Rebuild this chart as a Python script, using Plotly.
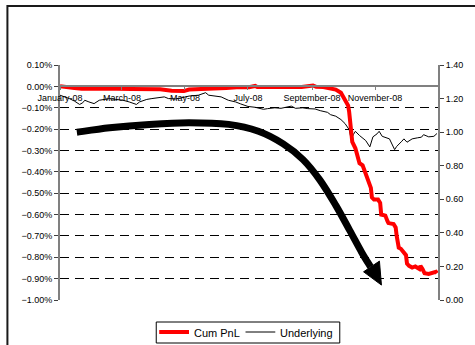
import plotly.graph_objects as go

# ---------------- data ----------------
pnl_dates = ["2008-01-01","2008-01-08","2008-01-15","2008-01-22","2008-02-01","2008-02-12","2008-02-25",
             "2008-03-10","2008-03-24","2008-04-07","2008-04-18","2008-04-25","2008-04-30","2008-05-05",
             "2008-05-14","2008-05-28","2008-06-10","2008-06-20","2008-06-27","2008-07-02","2008-07-08",
             "2008-07-10","2008-07-24","2008-08-08","2008-08-22","2008-09-02","2008-09-05","2008-09-12",
             "2008-09-19","2008-09-24","2008-09-29","2008-10-03","2008-10-06","2008-10-07","2008-10-08",
             "2008-10-09","2008-10-10","2008-10-13","2008-10-14","2008-10-15","2008-10-17","2008-10-20",
             "2008-10-22","2008-10-24","2008-10-26","2008-10-28","2008-10-29","2008-10-31","2008-11-04",
             "2008-11-06","2008-11-07","2008-11-11","2008-11-13","2008-11-14","2008-11-19","2008-11-21",
             "2008-11-22","2008-11-24","2008-11-26","2008-11-29","2008-12-01","2008-12-02","2008-12-04",
             "2008-12-07","2008-12-10","2008-12-14","2008-12-15","2008-12-17","2008-12-19","2008-12-23",
             "2008-12-26","2008-12-29","2008-12-30","2008-12-31"]
# cumulative PnL in percent
pnl_pct = [0.000,-0.002,-0.008,-0.011,-0.010,-0.009,-0.011,
           -0.012,-0.012,-0.014,-0.020,-0.023,-0.022,-0.015,
           -0.014,-0.012,-0.008,-0.004,-0.003,-0.004,0.002,
           -0.003,-0.003,-0.002,-0.003,0.004,-0.002,-0.003,
           -0.008,-0.015,-0.030,-0.060,-0.090,-0.120,-0.170,
           -0.230,-0.260,-0.290,-0.310,-0.330,-0.360,-0.370,
           -0.395,-0.420,-0.445,-0.475,-0.520,-0.530,-0.530,
           -0.545,-0.600,-0.605,-0.630,-0.640,-0.645,-0.660,
           -0.700,-0.755,-0.760,-0.780,-0.790,-0.830,-0.840,
           -0.848,-0.843,-0.855,-0.840,-0.855,-0.875,-0.878,
           -0.875,-0.873,-0.868,-0.875]

und_dates = ["2008-01-01","2008-01-06","2008-01-10","2008-01-15","2008-01-20","2008-01-23","2008-01-25",
             "2008-01-29","2008-02-03","2008-02-08","2008-02-13","2008-02-18","2008-02-24","2008-03-02",
             "2008-03-08","2008-03-13","2008-03-15","2008-03-18","2008-03-25","2008-03-30","2008-04-06",
             "2008-04-11","2008-04-15","2008-04-22","2008-04-28","2008-05-05","2008-05-14","2008-05-21",
             "2008-05-24","2008-05-31","2008-06-05","2008-06-12","2008-06-19","2008-06-24","2008-07-01",
             "2008-07-08","2008-07-16","2008-07-20","2008-07-27","2008-08-02","2008-08-09","2008-08-12",
             "2008-08-16","2008-08-23","2008-08-28","2008-09-04","2008-09-09","2008-09-16","2008-09-19",
             "2008-09-24","2008-09-29","2008-10-03","2008-10-07","2008-10-09","2008-10-11","2008-10-13",
             "2008-10-17","2008-10-20","2008-10-23","2008-10-27","2008-10-30","2008-11-03","2008-11-05",
             "2008-11-08","2008-11-11","2008-11-15","2008-11-20","2008-11-22","2008-11-27","2008-11-29",
             "2008-12-02","2008-12-07","2008-12-12","2008-12-16","2008-12-18","2008-12-23","2008-12-28",
             "2008-12-31"]
underlying = [1.220,1.210,1.200,1.185,1.165,1.175,1.190,
              1.180,1.170,1.190,1.195,1.200,1.195,1.190,
              1.180,1.168,1.165,1.180,1.195,1.200,1.205,
              1.210,1.200,1.198,1.205,1.215,1.220,1.235,
              1.220,1.215,1.210,1.190,1.180,1.168,1.153,
              1.148,1.136,1.140,1.145,1.142,1.150,1.155,
              1.142,1.145,1.140,1.138,1.128,1.118,1.104,
              1.095,1.075,1.051,1.015,0.956,0.985,1.005,
              0.980,0.966,0.950,0.912,0.972,0.990,1.005,
              0.975,0.968,0.960,0.896,0.915,0.946,0.960,
              0.940,0.960,0.966,0.970,0.985,0.972,0.975,
              0.992]

series_names = ["Cum PnL", "Underlying"]
x_tickvals = ["2008-01-01","2008-03-01","2008-05-01","2008-07-01","2008-09-01","2008-11-01"]
x_ticktext = ["January-08","March-08","May-08","July-08","September-08","November-08"]
left_ticks_pct = [0.10,0.00,-0.10,-0.20,-0.30,-0.40,-0.50,-0.60,-0.70,-0.80,-0.90,-1.00]
right_ticks = [0.0,0.2,0.4,0.6,0.8,1.0,1.2,1.4]

# ---------------- layout geometry (pixels) ----------------
W, H = 475, 345
PL, PR, PT, PB = 60, 441, 65, 300
YMIN, YMAX = -1.0, 0.1   # percent

def px_x(x):
    return (x - PL) / (PR - PL)
def px_y(y):
    return (PB - y) / (PB - PT)
def pct_y(p):
    return (p - YMIN) / (YMAX - YMIN)

FONT = "Arial, Liberation Sans, sans-serif"
RED = "#FF0000"

fig = go.Figure()
fig.add_trace(go.Scatter(x=pnl_dates, y=[v / 100 for v in pnl_pct], name=series_names[0], mode="lines",
                         line=dict(color=RED, width=4), yaxis="y2"))
fig.add_trace(go.Scatter(x=und_dates, y=underlying, name=series_names[1], mode="lines",
                         line=dict(color="#000000", width=1), yaxis="y"))

# curved arrow decoration: (pixel x, percent level)
shaft = [(77,-0.215),(110,-0.194),(150,-0.178),(190,-0.170),(230,-0.178),(260,-0.21),(285,-0.269),
         (305,-0.343),(322,-0.439),(338,-0.557),(352,-0.674),(364,-0.776),(373,-0.845)]
shaft_p = [(px_x(a), pct_y(b)) for a, b in shaft]
def catmull(pts):
    s = "M %.4f,%.4f" % pts[0]
    n = len(pts)
    for i in range(n - 1):
        p0 = pts[i-1] if i > 0 else pts[i]
        p1 = pts[i]; p2 = pts[i+1]
        p3 = pts[i+2] if i + 2 < n else pts[i+1]
        c1 = (p1[0] + (p2[0]-p0[0])/6, p1[1] + (p2[1]-p0[1])/6)
        c2 = (p2[0] - (p3[0]-p1[0])/6, p2[1] - (p3[1]-p1[1])/6)
        s += " C %.4f,%.4f %.4f,%.4f %.4f,%.4f" % (*c1, *c2, *p2)
    return s
head = [(384,-0.930),(366,-0.868),(382,-0.818)]
head_p = [(px_x(a), pct_y(b)) for a, b in head]
head_path = "M %.4f,%.4f L %.4f,%.4f L %.4f,%.4f Z" % (*head_p[0], *head_p[1], *head_p[2])

shapes = [
    # outer chart frame
    dict(type="rect", xref="paper", yref="paper", x0=px_x(7), x1=px_x(490), y0=px_y(380), y1=px_y(6),
         line=dict(color="#1a1a1a", width=2), fillcolor="rgba(0,0,0,0)", layer="above"),
    # arrow
    dict(type="path", xref="paper", yref="paper", path=catmull(shaft_p),
         line=dict(color="#000000", width=7), fillcolor="rgba(0,0,0,0)", layer="above"),
    dict(type="path", xref="paper", yref="paper", path=head_path,
         line=dict(color="#000000", width=1), fillcolor="#000000", layer="above"),
    # legend box and samples
    dict(type="rect", xref="paper", yref="paper", x0=px_x(157), x1=px_x(342), y0=px_y(343), y1=px_y(322),
         line=dict(color="#000000", width=1), fillcolor="white", layer="above"),
    dict(type="line", xref="paper", yref="paper", x0=px_x(160), x1=px_x(190), y0=px_y(332), y1=px_y(332),
         line=dict(color=RED, width=4), layer="above"),
    dict(type="line", xref="paper", yref="paper", x0=px_x(247), x1=px_x(277), y0=px_y(332), y1=px_y(332),
         line=dict(color="#000000", width=1), layer="above"),
]
annotations = [
    dict(xref="paper", yref="paper", x=px_x(193), y=px_y(332.5), text=series_names[0], showarrow=False,
         xanchor="left", yanchor="middle", font=dict(size=11, color="#000000")),
    dict(xref="paper", yref="paper", x=px_x(280), y=px_y(332.5), text=series_names[1], showarrow=False,
         xanchor="left", yanchor="middle", font=dict(size=11, color="#000000")),
]

fig.update_layout(
    width=W, height=H,
    margin=dict(l=PL, r=W-PR, t=PT, b=H-PB, pad=0),
    paper_bgcolor="white", plot_bgcolor="white",
    font=dict(family=FONT, size=9, color="#000000"),
    showlegend=False,
    xaxis=dict(type="date", range=["2008-01-01","2009-01-01"], anchor="free", position=pct_y(0.0),
               tickvals=x_tickvals, ticktext=x_ticktext, showgrid=False,
               showline=True, linecolor="#808080", linewidth=2,
               ticks="outside", ticklen=3, tickcolor="#808080",
               tickfont=dict(size=9), zeroline=False),
    yaxis2=dict(range=[YMIN/100, YMAX/100], side="left", overlaying="y", anchor="x",
                tickvals=[v / 100 for v in left_ticks_pct], tickformat=".2%",
                showgrid=True, gridcolor="#000000", gridwidth=1, griddash="9px,6px",
                showline=True, linecolor="#808080", linewidth=2,
                ticks="outside", ticklen=4, tickcolor="#404040",
                zeroline=False, tickfont=dict(size=9)),
    yaxis=dict(range=[0, 1.4], side="right", anchor="x",
               tickvals=right_ticks, tickformat=".2f",
               showgrid=False, showline=True, linecolor="#808080", linewidth=2,
               ticks="outside", ticklen=4, tickcolor="#404040",
               zeroline=False, tickfont=dict(size=9)),
    shapes=shapes,
    annotations=annotations,
)

fig.write_html("out.html")
